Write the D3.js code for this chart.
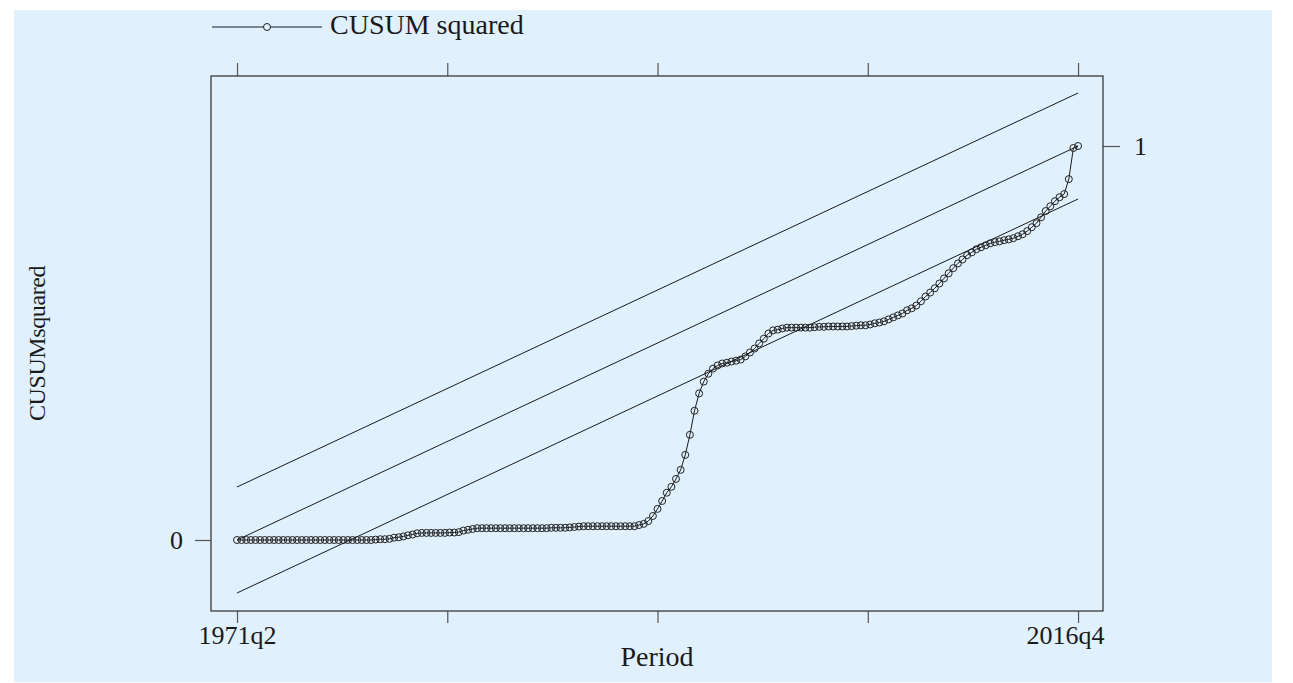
<!DOCTYPE html>
<html>
<head>
<meta charset="utf-8">
<script src="https://cdn.jsdelivr.net/npm/d3@7"></script>
<style>
  html, body { margin: 0; padding: 0; background: #ffffff; }
  svg { display: block; font-family: "Liberation Serif", "DejaVu Serif", serif; }
</style>
</head>
<body>
<svg id="chart" width="1293" height="683"></svg>
<script>
// ============================================================================
// data
// ============================================================================

// first quarter of the sample and number of quarters
const startYear = 1971;
const startQuarter = 2;
const nPeriods = 183;

// CUSUM of squares, one value per quarter (1971q2 .. 2016q4)
const cusumSq = [
    0.000, 0.000, 0.000, 0.000, 0.000, 0.000, 0.000, 0.000, 0.000, 0.000,
    0.000, 0.000, 0.000, 0.000, 0.000, 0.000, 0.000, 0.000, 0.000, 0.000,
    0.000, 0.000, 0.000, 0.000, 0.000, 0.000, 0.000, 0.000, 0.000, 0.000,
    0.001, 0.002, 0.002, 0.003, 0.006, 0.007, 0.009, 0.012, 0.014, 0.017,
    0.018, 0.018, 0.018, 0.018, 0.018, 0.018, 0.019, 0.019, 0.020, 0.024,
    0.026, 0.028, 0.030, 0.030, 0.030, 0.030, 0.030, 0.030, 0.030, 0.030,
    0.030, 0.030, 0.030, 0.030, 0.030, 0.030, 0.030, 0.030, 0.031, 0.031,
    0.031, 0.031, 0.032, 0.033, 0.034, 0.035, 0.035, 0.035, 0.035, 0.035,
    0.035, 0.035, 0.035, 0.035, 0.035, 0.035, 0.035, 0.038, 0.041, 0.048,
    0.061, 0.079, 0.099, 0.120, 0.135, 0.155, 0.178, 0.216, 0.267, 0.328,
    0.372, 0.402, 0.422, 0.435, 0.443, 0.448, 0.450, 0.453, 0.455, 0.458,
    0.466, 0.476, 0.486, 0.499, 0.511, 0.524, 0.532, 0.534, 0.537, 0.539,
    0.539, 0.539, 0.539, 0.539, 0.539, 0.540, 0.541, 0.541, 0.542, 0.542,
    0.542, 0.542, 0.542, 0.543, 0.544, 0.545, 0.545, 0.547, 0.550, 0.552,
    0.555, 0.560, 0.565, 0.570, 0.575, 0.583, 0.588, 0.595, 0.606, 0.618,
    0.628, 0.639, 0.651, 0.664, 0.677, 0.690, 0.702, 0.712, 0.723, 0.730,
    0.738, 0.743, 0.748, 0.753, 0.756, 0.758, 0.761, 0.763, 0.766, 0.771,
    0.776, 0.784, 0.794, 0.804, 0.819, 0.835, 0.847, 0.860, 0.870, 0.878,
    0.916, 0.995, 1.000
];

// expected line runs from 0 at the first quarter to 1 at the last one
const expectedEnds = [0, 1];
// half-width of the 5% band around the expected line
const bandHalfWidth = 0.1345;

// axis ticks (quarter index from start) and labels
const xTickIdx = [0, 45.5, 91, 136.5, 182];
const xTickLabels = ["1971q2", "", "", "", "2016q4"];
const yTickValues = [0, 1];

// quarter labels
const periods = [];
for (let i = 0; i < nPeriods; i++) {
    let q = startQuarter - 1 + i;
    periods.push(`${startYear + Math.floor(q / 4)}q${(q % 4) + 1}`);
}

// ============================================================================
// layout
// ============================================================================

const bg = "#e0f0fd";
const ink = "#1a1a1a";

const plot = { left: 211, right: 1103, top: 76, bottom: 611 };

const svg = d3.select("#chart");

svg.append("rect")
    .attr("x", 14).attr("y", 10)
    .attr("width", 1258).attr("height", 672)
    .attr("fill", bg);

const x = d3.scaleLinear()
    .domain([-5.63, 187.4])
    .range([plot.left, plot.right]);

const y = d3.scaleLinear()
    .domain([-0.1802, 1.1777])
    .range([plot.bottom, plot.top]);

// ============================================================================
// axes
// ============================================================================

function styleAxis(g) {
    g.select(".domain").remove();
    g.selectAll(".tick line").attr("stroke", "#555").attr("stroke-width", 1.2);
    g.selectAll(".tick text")
        .attr("fill", ink)
        .attr("font-size", 26)
        .attr("font-family", "Liberation Serif, serif");
}

svg.append("g")
    .attr("transform", `translate(0,${plot.bottom})`)
    .call(d3.axisBottom(x).tickValues(xTickIdx).tickSize(12).tickPadding(3)
        .tickFormat((d, i) => xTickLabels[i]))
    .call(styleAxis)
    .call(g => g.selectAll(".tick text").filter((d, i) => i === xTickIdx.length - 1)
        .attr("text-anchor", "end")
        .attr("x", plot.right - x(xTickIdx[xTickIdx.length - 1]) + 1));

svg.append("g")
    .attr("transform", `translate(0,${plot.top})`)
    .call(d3.axisTop(x).tickValues(xTickIdx).tickSize(13).tickFormat(""))
    .call(styleAxis);

svg.append("g")
    .attr("transform", `translate(${plot.left},0)`)
    .call(d3.axisLeft(y).tickValues([yTickValues[0]]).tickSize(16).tickPadding(12)
        .tickFormat(d3.format("d")))
    .call(styleAxis);

svg.append("g")
    .attr("transform", `translate(${plot.right},0)`)
    .call(d3.axisRight(y).tickValues([yTickValues[1]]).tickSize(17).tickPadding(14)
        .tickFormat(d3.format("d")))
    .call(styleAxis);

// plot frame
svg.append("rect")
    .attr("x", plot.left).attr("y", plot.top)
    .attr("width", plot.right - plot.left)
    .attr("height", plot.bottom - plot.top)
    .attr("fill", "none")
    .attr("stroke", "#3a3a3a")
    .attr("stroke-width", 1.3);

// axis titles
svg.append("text")
    .attr("x", (plot.left + plot.right) / 2)
    .attr("y", 666)
    .attr("text-anchor", "middle")
    .attr("font-size", 28)
    .attr("fill", ink)
    .text("Period");

svg.append("text")
    .attr("transform", `translate(45,${(plot.top + plot.bottom) / 2}) rotate(-90)`)
    .attr("text-anchor", "middle")
    .attr("font-size", 24)
    .attr("letter-spacing", -0.4)
    .attr("fill", ink)
    .text("CUSUMsquared");

// ============================================================================
// reference lines
// ============================================================================

const last = nPeriods - 1;
const refLines = [
    [expectedEnds[0] + bandHalfWidth, expectedEnds[1] + bandHalfWidth],
    expectedEnds,
    [expectedEnds[0] - bandHalfWidth, expectedEnds[1] - bandHalfWidth]
];

svg.append("g")
    .attr("stroke", ink)
    .attr("stroke-width", 1)
    .selectAll("line")
    .data(refLines)
    .join("line")
    .attr("x1", x(0)).attr("x2", x(last))
    .attr("y1", d => y(d[0])).attr("y2", d => y(d[1]));

// ============================================================================
// series
// ============================================================================

const line = d3.line()
    .x((d, i) => x(i))
    .y(d => y(d));

svg.append("path")
    .datum(cusumSq)
    .attr("fill", "none")
    .attr("stroke", ink)
    .attr("stroke-width", 1)
    .attr("d", line);

svg.append("g")
    .attr("fill", "none")
    .attr("stroke", "#222")
    .attr("stroke-width", 1)
    .selectAll("circle")
    .data(cusumSq)
    .join("circle")
    .attr("cx", (d, i) => x(i))
    .attr("cy", d => y(d))
    .attr("r", 3.5);

// ============================================================================
// legend
// ============================================================================

const legend = svg.append("g");

legend.append("line")
    .attr("x1", 212).attr("x2", 322)
    .attr("y1", 27).attr("y2", 27)
    .attr("stroke", ink)
    .attr("stroke-width", 1);

legend.append("circle")
    .attr("cx", 267).attr("cy", 27).attr("r", 3.5)
    .attr("fill", bg)
    .attr("stroke", "#222")
    .attr("stroke-width", 1);

legend.append("text")
    .attr("x", 330).attr("y", 34)
    .attr("font-size", 28)
    .attr("fill", ink)
    .text("CUSUM squared");
</script>
</body>
</html>
